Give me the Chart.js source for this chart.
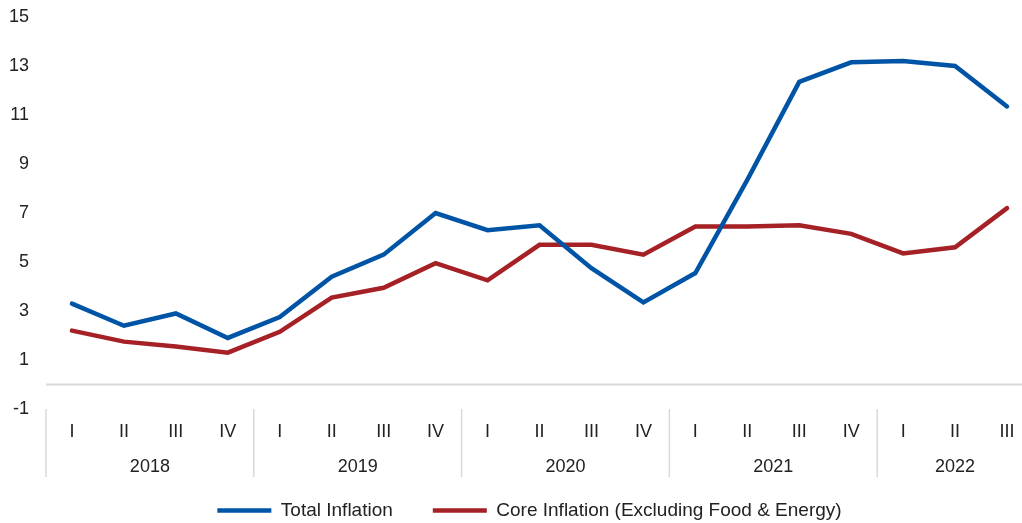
<!DOCTYPE html>
<html>
<head>
<meta charset="utf-8">
<title>Total and Core Inflation</title>
<script src="https://cdn.jsdelivr.net/npm/chart.js@4.4.0/dist/chart.umd.min.js"></script>
<style>
    html, body { margin: 0; padding: 0; background: #fff; overflow: hidden; }
    /* plot runs past the right edge of the window, as in the original */
    .chart-wrap { position: relative; width: 1033px; height: 523px; }
</style>
</head>
<body>
<div class="chart-wrap"><canvas id="inflationChart"></canvas></div>
<script>
// Quarter labels along the x axis
const quarters = ['I', 'II', 'III', 'IV', 'I', 'II', 'III', 'IV', 'I', 'II', 'III', 'IV',
                  'I', 'II', 'III', 'IV', 'I', 'II', 'III'];

// Year groups shown under the quarters
const years = ['2018', '2019', '2020', '2021', '2022'];
const quartersPerYear = [4, 4, 4, 4, 3];

// Series values (%)
const totalInflation = [3.3, 2.4, 2.9, 1.9, 2.75, 4.4, 5.3, 7.0, 6.3, 6.5, 4.75, 3.35,
                        4.55, 8.35, 12.35, 13.15, 13.2, 13.0, 11.35];
const coreInflation = [2.2, 1.75, 1.55, 1.3, 2.15, 3.55, 3.95, 4.95, 4.25, 5.7, 5.7, 5.3,
                       6.45, 6.45, 6.5, 6.15, 5.35, 5.6, 7.2];

const TEXT_COLOR = '#222';
const FONT = { size: 18, family: '"Liberation Sans", Arial, sans-serif' };
Chart.defaults.font.family = FONT.family;

// Draws the zero line, the year separators and the year row
const yearAxisPlugin = {
    id: 'yearAxis',
    afterLayout(chart) {
        // legend in the original sits a little right of the middle
        chart.legend.left += 13;
        chart.legend.right += 13;
    },
    beforeDatasetsDraw(chart) {
        const { ctx, chartArea, scales } = chart;
        const y0 = scales.y.getPixelForValue(0);
        ctx.save();
        ctx.strokeStyle = '#d9d9d9';
        ctx.lineWidth = 2;
        ctx.beginPath();
        ctx.moveTo(chartArea.left, y0);
        ctx.lineTo(chartArea.right, y0);
        ctx.stroke();
        ctx.restore();
    },
    afterDraw(chart) {
        const { ctx, chartArea, scales } = chart;
        const x = scales.x;
        const half = (x.getPixelForValue(1) - x.getPixelForValue(0)) / 2;
        ctx.save();
        ctx.strokeStyle = '#d9d9d9';
        ctx.lineWidth = 1.5;
        ctx.fillStyle = TEXT_COLOR;
        ctx.font = `${FONT.size}px ${FONT.family}`;
        ctx.textAlign = 'center';
        ctx.textBaseline = 'middle';
        let start = 0;
        years.forEach((year, i) => {
            const end = start + quartersPerYear[i] - 1;
            const left = x.getPixelForValue(start) - half;
            ctx.beginPath();
            ctx.moveTo(left, chartArea.bottom);
            ctx.lineTo(left, chartArea.bottom + 68);
            ctx.stroke();
            const mid = (x.getPixelForValue(start) + x.getPixelForValue(end)) / 2;
            ctx.fillText(year, mid, chartArea.bottom + 58);
            start = end + 1;
        });
        ctx.restore();
    }
};

new Chart(document.getElementById('inflationChart'), {
    type: 'line',
    data: {
        labels: quarters,
        datasets: [{
            label: 'Total Inflation',
            data: totalInflation,
            borderColor: '#0054a6',
            backgroundColor: '#0054a6',
            borderWidth: 4.5,
            borderCapStyle: 'round',
            pointRadius: 0,
            tension: 0
        }, {
            label: 'Core Inflation (Excluding Food & Energy)',
            data: coreInflation,
            borderColor: '#a52126',
            backgroundColor: '#a52126',
            borderWidth: 4.5,
            borderCapStyle: 'round',
            pointRadius: 0,
            tension: 0
        }]
    },
    options: {
        responsive: true,
        maintainAspectRatio: false,
        animation: false,
        layout: { padding: { left: 0, right: 0, top: 17, bottom: 0 } },
        plugins: {
            legend: {
                position: 'bottom',
                maxHeight: 62,
                labels: {
                    usePointStyle: true,
                    pointStyle: 'line',
                    pointStyleWidth: 54,
                    padding: 40,
                    color: TEXT_COLOR,
                    font: { size: 19, family: FONT.family }
                }
            },
            tooltip: { enabled: false }
        },
        scales: {
            x: {
                offset: true,
                grid: { display: false, drawTicks: false },
                border: { display: false },
                ticks: { padding: 12, color: TEXT_COLOR, font: FONT, maxRotation: 0, autoSkip: false },
                afterFit(scale) { scale.height = 52; }
            },
            y: {
                min: -1,
                max: 15,
                grid: { display: false, drawTicks: false },
                border: { display: false },
                ticks: { stepSize: 2, padding: 17, color: TEXT_COLOR, font: FONT },
                afterFit(scale) {
                    scale.width = 46;
                    scale.paddingTop = 8;
                    scale.paddingBottom = 8;
                }
            }
        }
    },
    plugins: [yearAxisPlugin]
});
</script>
</body>
</html>
